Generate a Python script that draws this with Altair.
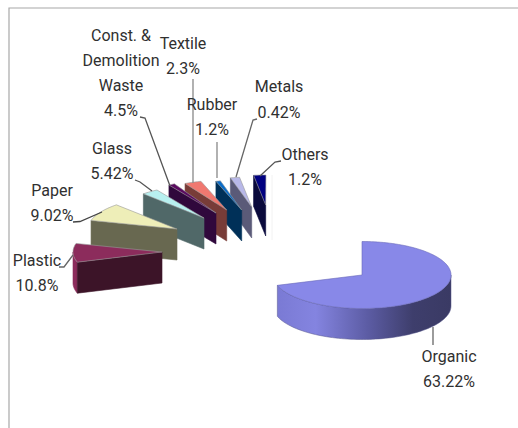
import math
import altair as alt
import pandas as pd

# Waste composition shares, in percent
NAMES = ["Organic", "Plastic", "Paper", "Glass", "Const. & Demolition Waste",
         "Textile", "Rubber", "Metals", "Others"]
SHARES = [63.22, 10.8, 9.02, 5.42, 4.5, 2.3, 1.2, 0.42, 1.2]
SHARE_TEXT = ["63.22%", "10.8%", "9.02%", "5.42%", "4.5%", "2.3%", "1.2%", "0.42%", "1.2%"]

# Degrees of pie drawn per percent after the oblique view foreshortens each wedge
SWEEP_PER_PCT = [3.986, 3.06, 3.55, 2.03, 0.9, 4.8, 2.5, 14.3, 6.67]

# Exploded wedge apex and vertical radius of the ellipse, in canvas units
APEX_X = [362, 162, 177, 204, 216, 226.7, 241.7, 251.7, 265.7]
APEX_Y = [275, 252, 229, 218, 213, 210, 210, 207, 205]
RADIUS_Y = [33.5, 33, 33, 33, 33, 30, 30, 30, 30]
RADIUS_X = 89
DEPTH = 31

TOP_COLORS = ["#8888e8", "#8c2c5c", "#eeeeb8", "#b8f0f0", "#5a0a60",
              "#f07870", "#0a6cc8", "#b8b8e8", "#000080"]
WALL_COLORS = ["#8888e8", "#3c1428", "#686850", "#506868", "#30083c",
               "#783c38", "#003058", "#5a5a78", "#0a0a3c"]

# Label lines: (text, x, y)
LABEL_LINES = [
    ("Const. &", 121, 36), ("Demolition", 121, 61), ("Waste", 121, 86), ("4.5%", 121, 111),
    ("Textile", 183, 44), ("2.3%", 183, 69),
    ("Rubber", 212, 105), ("1.2%", 212, 130),
    ("Metals", 279, 87), ("0.42%", 279, 113),
    ("Others", 305, 155), ("1.2%", 305, 180),
    ("Glass", 112, 149), ("5.42%", 112, 174),
    ("Paper", 52, 191), ("9.02%", 52, 216),
    ("Plastic", 37, 261), ("10.8%", 37, 286),
    ("Organic", 449, 357), ("63.22%", 449, 382),
]

# Leader polylines from each label to its wedge
LEADERS = [
    [(140, 117), (145, 118), (170, 186)],
    [(193, 79), (193, 183)],
    [(217, 142), (217, 178)],
    [(257, 119), (253, 120), (236, 177)],
    [(281, 161), (275, 162), (260, 176)],
    [(135, 180), (140, 182), (152, 191)],
    [(73, 222), (80, 221.5), (102, 212)],
    [(59, 267), (64, 267), (73, 255)],
    [(433, 327), (433, 345)],
]
LEADER_GREYS = ["#555555", "#888888", "#888888", "#666666", "#555555",
                "#555555", "#444444", "#666666", "#666666"]

FRAME = [(9, 428), (9, 8), (518, 8)]
FAINT_RULE = [(272, 175), (272, 240)]

X_SCALE = alt.Scale(domain=[0, 518])
Y_SCALE = alt.Scale(domain=[428, 0])


def rim(i, t_deg, drop=0):
    t = math.radians(t_deg)
    return (APEX_X[i] + RADIUS_X * math.sin(t),
            APEX_Y[i] - RADIUS_Y[i] * math.cos(t) + drop)


def arc(i, t0, t1, drop=0, step=2):
    n = max(2, int(abs(t1 - t0) / step) + 1)
    return [rim(i, t0 + (t1 - t0) * k / (n - 1), drop) for k in range(n)]


def path_layer(points, **mark):
    df = pd.DataFrame([{"x": x, "y": y, "k": k} for k, (x, y) in enumerate(points)])
    return alt.Chart(df).mark_line(**mark).encode(
        x=alt.X("x:Q", scale=X_SCALE, axis=None),
        y=alt.Y("y:Q", scale=Y_SCALE, axis=None),
        order="k:Q",
    )


def face(points, color, edge=None):
    closed = points + [points[0]]
    return path_layer(closed, fill=color, stroke=edge or color, strokeWidth=0.6)


# Wedge boundaries accumulate around the pie from twelve o'clock
bounds = [0.0]
for share, rate in zip(SHARES, SWEEP_PER_PCT):
    bounds.append(bounds[-1] + share * rate)

layers = [
    path_layer(FRAME, stroke="#a8a8a8", strokeWidth=1.2),
    path_layer(FAINT_RULE, stroke="#f2f2f2", strokeWidth=1),
]

# The far wedges are painted first so the nearer ones overlap them
for i in range(len(NAMES) - 1, 0, -1):
    t0, t1 = bounds[i], bounds[i + 1]
    apex = (APEX_X[i], APEX_Y[i])
    apex_low = (APEX_X[i], APEX_Y[i] + DEPTH)
    if t0 < 270:
        stop = min(t1, 270)
        layers.append(face(arc(i, t0, stop) + arc(i, stop, t0, DEPTH), TOP_COLORS[i]))
    layers.append(face([rim(i, t0), apex, apex_low, rim(i, t0, DEPTH)], WALL_COLORS[i]))
    layers.append(face([apex] + arc(i, t0, t1), TOP_COLORS[i], "#999999"))

# The large wedge: shaded outer wall, then its flat top
organic_wall = alt.LinearGradient(
    gradient="linear", x1=0, x2=1, y1=0, y2=0,
    stops=[
        alt.GradientStop(offset=0.0, color="#7a7ad4"),
        alt.GradientStop(offset=0.22, color="#8484e0"),
        alt.GradientStop(offset=0.52, color="#5c5ca4"),
        alt.GradientStop(offset=0.78, color="#3e3e6c"),
        alt.GradientStop(offset=1.0, color="#3a3a64"),
    ],
)
layers.append(path_layer(arc(0, 90, bounds[1]) + arc(0, bounds[1], 90, DEPTH) + [rim(0, 90)],
                         fill=organic_wall, stroke="#55558a", strokeWidth=0.5))
layers.append(face([(APEX_X[0], APEX_Y[0])] + arc(0, 0, bounds[1]), TOP_COLORS[0], "#6a6ab8"))

for line, grey in zip(LEADERS, LEADER_GREYS):
    layers.append(path_layer(line, stroke=grey, strokeWidth=1.3))

labels = pd.DataFrame(LABEL_LINES, columns=["text", "x", "y"])
layers.append(
    alt.Chart(labels).mark_text(
        font="Roboto", fontSize=16, color="#303030",
        align="center", baseline="middle",
    ).encode(
        x=alt.X("x:Q", scale=X_SCALE, axis=None),
        y=alt.Y("y:Q", scale=Y_SCALE, axis=None),
        text="text:N",
    )
)

chart = alt.layer(*layers).properties(
    width=518, height=428, padding=0,
    autosize=alt.AutoSizeParams(type="none"),
    background="white",
).configure_view(stroke=None)

chart.save("out.html", embed_options={"renderer": "svg", "actions": False})
